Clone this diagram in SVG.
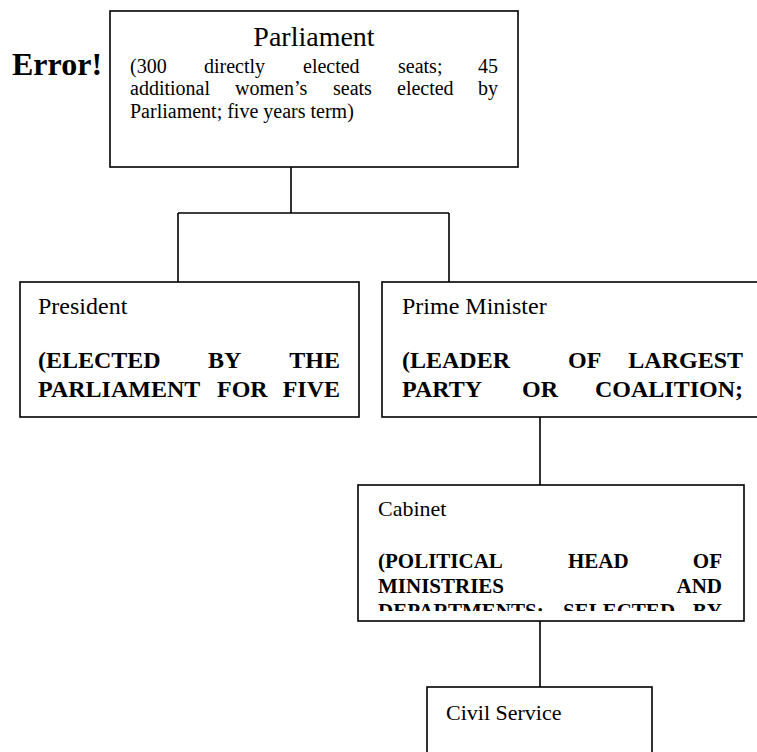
<svg xmlns="http://www.w3.org/2000/svg" width="757" height="752" viewBox="0 0 757 752">
  <style>
    .box { fill: #ffffff; stroke: #000000; stroke-width: 1.6; }
    .link { fill: none; stroke: #000000; stroke-width: 1.6; }
    text { font-family: "Liberation Serif", "Times New Roman", serif; fill: #000000; }
    .err { font-size: 32px; font-weight: bold; }
    .ttl { font-size: 28px; }
    .body { font-size: 20px; }
    .lbl { font-size: 24px; }
    .bold { font-size: 24px; font-weight: bold; }
    .lbl-s { font-size: 22px; }
    .bold-s { font-size: 21px; font-weight: bold; }
    .r { text-anchor: end; }
    .c { text-anchor: middle; }
  </style>
  <defs>
    <clipPath id="cabinet-clip">
      <rect x="359" y="486" width="384" height="125"/>
    </clipPath>
  </defs>

  <rect width="757" height="752" fill="#ffffff"/>

  <!-- connectors -->
  <g id="connectors">
    <path class="link" d="M291 167 V213 M178 213 H449 M178 213 V282 M449 213 V282"/>
    <path class="link" d="M540 417 V485"/>
    <path class="link" d="M540 621 V687"/>
  </g>

  <text class="err" x="12" y="75">Error!</text>

  <g id="parliament">
    <rect class="box" x="110" y="11" width="408" height="156"/>
    <text class="ttl c" x="314" y="46">Parliament</text>
    <text class="body" y="73"><tspan x="130">(300</tspan><tspan x="204">directly</tspan><tspan x="303">elected</tspan><tspan x="398">seats;</tspan></text>
    <text class="body r" x="498" y="73">45</text>
    <text class="body" y="95.3"><tspan x="130">additional</tspan><tspan x="235">women’s</tspan><tspan x="333">seats</tspan><tspan x="397">elected</tspan></text>
    <text class="body r" x="498" y="95.3">by</text>
    <text class="body" x="130" y="117.6">Parliament; five years term)</text>
  </g>

  <g id="president">
    <rect class="box" x="20" y="282" width="339" height="135"/>
    <text class="lbl" x="38" y="314">President</text>
    <text class="bold" y="368"><tspan x="38">(ELECTED</tspan><tspan x="208">BY</tspan></text>
    <text class="bold r" x="340" y="368">THE</text>
    <text class="bold" y="397"><tspan x="38">PARLIAMENT</tspan><tspan x="217">FOR</tspan></text>
    <text class="bold r" x="340" y="397">FIVE</text>
  </g>

  <g id="prime-minister">
    <rect class="box" x="382" y="282" width="400" height="135"/>
    <text class="lbl" x="402" y="314">Prime Minister</text>
    <text class="bold" y="368"><tspan x="402">(LEADER</tspan><tspan x="568">OF</tspan></text>
    <text class="bold r" x="743" y="368">LARGEST</text>
    <text class="bold" y="397"><tspan x="402">PARTY</tspan><tspan x="522">OR</tspan></text>
    <text class="bold r" x="743" y="397">COALITION;</text>
  </g>

  <g id="cabinet">
    <rect class="box" x="358" y="485" width="386" height="136"/>
    <text class="lbl-s" x="378" y="516">Cabinet</text>
    <g clip-path="url(#cabinet-clip)">
      <text class="bold-s" y="568"><tspan x="378">(POLITICAL</tspan><tspan x="568">HEAD</tspan></text>
      <text class="bold-s r" x="722" y="568">OF</text>
      <text class="bold-s" x="378" y="593">MINISTRIES</text>
      <text class="bold-s r" x="722" y="593">AND</text>
      <text class="bold-s" y="618"><tspan x="378">DEPARTMENTS;</tspan><tspan x="563">SELECTED</tspan></text>
      <text class="bold-s r" x="722" y="618">BY</text>
    </g>
  </g>

  <g id="civil-service">
    <rect class="box" x="427" y="687" width="225" height="90"/>
    <text class="lbl-s" x="446" y="720">Civil Service</text>
  </g>
</svg>
